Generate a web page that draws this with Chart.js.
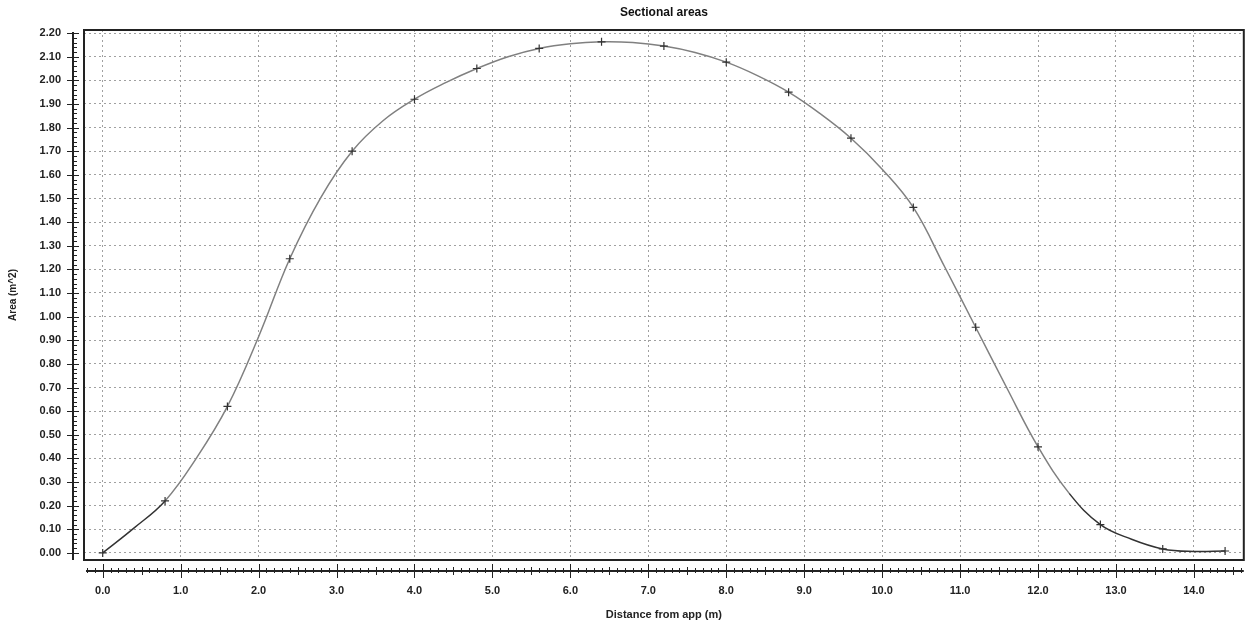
<!DOCTYPE html>
<html>
<head>
<meta charset="utf-8">
<title>Sectional areas</title>
<script src="https://cdn.jsdelivr.net/npm/chart.js@4.4.1/dist/chart.umd.min.js"></script>
<style>
  html, body { margin: 0; padding: 0; background: #fff; }
  #wrap { width: 1249px; height: 628px; }
</style>
</head>
<body>
<div id="wrap"><canvas id="chart"></canvas></div>
<script>
// distance from app (m), every 0.4 m; a "+" marker sits on every second station
const distance = [0.0, 0.4, 0.8, 1.2, 1.6, 2.0, 2.4, 2.8, 3.2, 3.6, 4.0, 4.4, 4.8, 5.2, 5.6, 6.0, 6.4, 6.8, 7.2,
  7.6, 8.0, 8.4, 8.8, 9.2, 9.6, 10.0, 10.4, 10.8, 11.2, 11.6, 12.0, 12.4, 12.8, 13.2, 13.6, 14.0, 14.4];
const area = [0.000, 0.105, 0.220, 0.400, 0.620, 0.915, 1.245, 1.505, 1.700, 1.830, 1.920, 1.990, 2.050, 2.100,
  2.135, 2.155, 2.163, 2.160, 2.145, 2.118, 2.077, 2.020, 1.950, 1.860, 1.755, 1.624, 1.462, 1.212, 0.955,
  0.698, 0.449, 0.252, 0.120, 0.058, 0.017, 0.006, 0.008];
const marked = distance.map((d, i) => i % 2 === 0);

const points = distance.map((d, i) => ({ x: d, y: area[i] }));

Chart.defaults.font.family = "'Liberation Sans', Arial, sans-serif";
Chart.defaults.color = '#222';

// the axes are drawn a little apart from the plot frame, like the original
const detachedAxes = {
  id: 'detachedAxes',
  afterDraw(chart) {
    const { ctx, chartArea: a, scales: { x, y } } = chart;
    ctx.save();
    ctx.strokeStyle = '#222';

    ctx.lineWidth = 2;
    ctx.strokeRect(a.left, a.top, a.right - a.left, a.bottom - a.top);

    // y axis
    const yx = a.left - 11;
    ctx.beginPath();
    ctx.moveTo(yx, a.top + 2);
    ctx.lineTo(yx, a.bottom);
    ctx.stroke();
    ctx.lineWidth = 1;
    for (let i = 0; i <= 110; i++) {
      const py = Math.round(y.getPixelForValue(i * 0.02)) + 0.5;
      const major = i % 5 === 0;
      ctx.beginPath();
      ctx.moveTo(major ? yx - 6 : yx, py);
      ctx.lineTo(major ? yx + 6 : yx + 4, py);
      ctx.stroke();
    }

    // x axis
    const xy = a.bottom + 11;
    ctx.lineWidth = 2;
    ctx.beginPath();
    ctx.moveTo(a.left + 2, xy);
    ctx.lineTo(a.right, xy);
    ctx.stroke();
    ctx.lineWidth = 1;
    for (let i = -2; i <= 146; i++) {
      const px = Math.round(x.getPixelForValue(i / 10)) + 0.5;
      let up = 3, down = 2;
      if (i % 10 === 0) { up = 7; down = 7; }
      else if (i % 5 === 0) { up = 4; down = 4; }
      ctx.beginPath();
      ctx.moveTo(px, xy - up);
      ctx.lineTo(px, xy + down);
      ctx.stroke();
    }
    ctx.restore();
  }
};

new Chart(document.getElementById('chart'), {
  type: 'line',
  data: {
    datasets: [{
      label: 'Area',
      data: points,
      borderColor: '#808080',
      borderWidth: 1.5,
      tension: 0.4,
      segment: {
        borderColor: c => (c.p0.parsed.y < 0.3 && c.p1.parsed.y < 0.3) ? '#333' : undefined
      },
      pointStyle: 'cross',
      pointRadius: distance.map((d, i) => marked[i] ? 4 : 0),
      pointBorderColor: '#333',
      pointBorderWidth: 1.2,
      fill: false
    }]
  },
  options: {
    responsive: true,
    maintainAspectRatio: false,
    animation: false,
    layout: { padding: { left: 0, right: 3, top: 0, bottom: 0 } },
    plugins: {
      legend: { display: false },
      tooltip: { enabled: false },
      title: {
        display: true,
        fullSize: false,
        text: 'Sectional areas',
        font: { size: 12, weight: 'bold' },
        color: '#111',
        padding: { top: 5, bottom: 10.6 }
      }
    },
    scales: {
      x: {
        type: 'linear',
        min: -0.24,
        max: 14.64,
        afterFit: s => { s.height = 68; },
        ticks: {
          stepSize: 1,
          includeBounds: false,
          autoSkip: false,
          maxRotation: 0,
          padding: 24,
          font: { size: 11, weight: 'bold' },
          callback: v => v.toFixed(1)
        },
        grid: { color: '#a0a0a0', lineWidth: 1, drawTicks: false },
        border: { display: false, dash: [2, 3] },
        title: {
          display: true,
          text: 'Distance from app (m)',
          font: { size: 11, weight: 'bold' },
          padding: { top: 0, bottom: 6.5 }
        }
      },
      y: {
        type: 'linear',
        min: -0.03,
        max: 2.213,
        afterFit: s => { s.width = 84; },
        ticks: {
          stepSize: 0.1,
          includeBounds: false,
          autoSkip: false,
          padding: 23,
          font: { size: 11, weight: 'bold' },
          callback: v => v.toFixed(2)
        },
        grid: { color: '#a0a0a0', lineWidth: 1, drawTicks: false },
        border: { display: false, dash: [2, 3] },
        title: {
          display: true,
          text: 'Area (m^2)',
          font: { size: 10, weight: 'bold' },
          padding: { top: 7, bottom: 0 }
        }
      }
    }
  },
  plugins: [detachedAxes]
});
</script>
</body>
</html>
